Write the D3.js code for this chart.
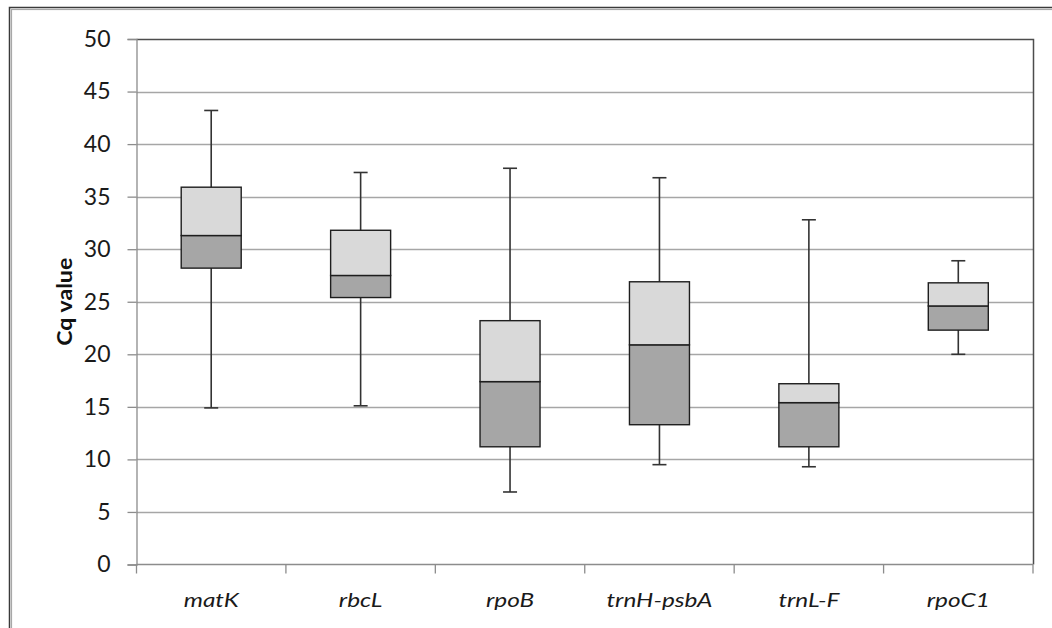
<!DOCTYPE html>
<html>
<head>
<meta charset="utf-8">
<script src="https://cdn.jsdelivr.net/npm/d3@7"></script>
<style>
  body { margin: 0; background: #fff; }
  svg { display: block; }
</style>
</head>
<body>
<div id="chart"></div>
<script>
// Chart data
var genes = ["matK", "rbcL", "rpoB", "trnH-psbA", "trnL-F", "rpoC1"];
var mins = [14.9, 15.1, 6.9, 9.5, 9.3, 20.0];
var q1s = [28.2, 25.4, 11.2, 13.3, 11.2, 22.3];
var medians = [31.3, 27.5, 17.4, 20.9, 15.4, 24.6];
var q3s = [35.9, 31.8, 23.2, 26.9, 17.2, 26.8];
var maxs = [43.2, 37.3, 37.7, 36.8, 32.8, 28.9];
var yTicks = [0, 5, 10, 15, 20, 25, 30, 35, 40, 45, 50];

(function() {
  var W = 1052, H = 628;
  var plotLeft = 136.5, plotRight = 1033, plotTop = 39, plotBottom = 564.5;
  var font = "Lato, 'Open Sans', sans-serif";

  var svg = d3.select("#chart").append("svg")
    .attr("width", W)
    .attr("height", H);

  // outer double frame (chart area border)
  svg.append("rect")
    .attr("x", 9.5).attr("y", 7.5)
    .attr("width", W + 20).attr("height", H + 20)
    .attr("fill", "none").attr("stroke", "#3a3a3a").attr("stroke-width", 1.5);
  svg.append("rect")
    .attr("x", 11.5).attr("y", 9.5)
    .attr("width", W + 20).attr("height", H + 20)
    .attr("fill", "none").attr("stroke", "#a8a8a8").attr("stroke-width", 1.2);

  var x = d3.scaleBand().domain(genes).range([plotLeft, plotRight]).paddingInner(0).paddingOuter(0);
  var y = d3.scaleLinear().domain([0, 50]).range([plotBottom, plotTop]);

  var data = genes.map(function(g, i) {
    return {name: g, min: mins[i], q1: q1s[i], med: medians[i], q3: q3s[i], max: maxs[i]};
  });

  // gridlines
  svg.append("g").selectAll("line")
    .data(yTicks.filter(function(d) { return d > 0 && d < 50; }))
    .enter().append("line")
    .attr("x1", plotLeft).attr("x2", plotRight)
    .attr("y1", function(d) { return Math.round(y(d)) + 0.5; })
    .attr("y2", function(d) { return Math.round(y(d)) + 0.5; })
    .attr("stroke", "#a6a6a6").attr("stroke-width", 1.3);

  // plot area border (top and right darker)
  svg.append("path")
    .attr("d", "M" + plotLeft + "," + (plotTop + 0.5) + "H" + (plotRight + 0.5) + "V" + plotBottom)
    .attr("fill", "none").attr("stroke", "#4d4d4d").attr("stroke-width", 1.5);

  // y axis
  var yAxis = d3.axisLeft(y).tickValues(yTicks).tickSize(9).tickPadding(17);
  var gy = svg.append("g")
    .attr("transform", "translate(" + plotLeft + ",0)")
    .call(yAxis);
  gy.select(".domain").attr("stroke", "#8c8c8c").attr("stroke-width", 1.3);
  gy.selectAll(".tick line").attr("stroke", "#8c8c8c").attr("stroke-width", 1.3);
  gy.selectAll(".tick text")
    .attr("fill", "#1a1a1a")
    .style("font-family", font)
    .style("font-size", "23px");

  // x axis (ticks at category boundaries)
  svg.append("line")
    .attr("x1", plotLeft).attr("x2", plotRight)
    .attr("y1", plotBottom).attr("y2", plotBottom)
    .attr("stroke", "#8c8c8c").attr("stroke-width", 1.3);
  var bounds = genes.map(function(g) { return x(g); }).concat([plotRight]);
  svg.append("g").selectAll("line")
    .data(bounds)
    .enter().append("line")
    .attr("x1", function(d) { return d; }).attr("x2", function(d) { return d; })
    .attr("y1", plotBottom).attr("y2", plotBottom + 9)
    .attr("stroke", "#8c8c8c").attr("stroke-width", 1.3);
  // category labels are drawn a little wide in the original, hence the x stretch
  svg.append("g").selectAll("text")
    .data(genes)
    .enter().append("text")
    .attr("transform", function(d) {
      return "translate(" + (x(d) + x.bandwidth() / 2) + ",607) scale(1.25,1)";
    })
    .attr("text-anchor", "middle")
    .attr("fill", "#1a1a1a")
    .style("font-family", font)
    .style("font-style", "italic")
    .style("font-size", "19.5px")
    .text(function(d) { return d; });

  // y axis title
  svg.append("text")
    .attr("transform", "translate(72," + ((plotTop + plotBottom) / 2) + ") rotate(-90) scale(1.1,1)")
    .attr("text-anchor", "middle")
    .attr("fill", "#111")
    .style("font-family", font)
    .style("font-weight", "bold")
    .style("font-size", "21px")
    .text("Cq value");

  // boxes
  var boxW = 60, capW = 14;
  var groups = svg.append("g").selectAll("g")
    .data(data)
    .enter().append("g")
    .attr("transform", function(d) { return "translate(" + (x(d.name) + x.bandwidth() / 2) + ",0)"; });

  // whiskers
  groups.append("line")
    .attr("x1", 0).attr("x2", 0)
    .attr("y1", function(d) { return y(d.max); })
    .attr("y2", function(d) { return y(d.min); })
    .attr("stroke", "#333").attr("stroke-width", 1.6);
  groups.append("line")
    .attr("x1", -capW / 2).attr("x2", capW / 2)
    .attr("y1", function(d) { return y(d.max); })
    .attr("y2", function(d) { return y(d.max); })
    .attr("stroke", "#333").attr("stroke-width", 1.6);
  groups.append("line")
    .attr("x1", -capW / 2).attr("x2", capW / 2)
    .attr("y1", function(d) { return y(d.min); })
    .attr("y2", function(d) { return y(d.min); })
    .attr("stroke", "#333").attr("stroke-width", 1.6);

  // lower half: q1 to median
  groups.append("rect")
    .attr("x", -boxW / 2).attr("width", boxW)
    .attr("y", function(d) { return y(d.med); })
    .attr("height", function(d) { return y(d.q1) - y(d.med); })
    .attr("fill", "#a6a6a6").attr("stroke", "#1e1e1e").attr("stroke-width", 1.4);

  // upper half: median to q3
  groups.append("rect")
    .attr("x", -boxW / 2).attr("width", boxW)
    .attr("y", function(d) { return y(d.q3); })
    .attr("height", function(d) { return y(d.med) - y(d.q3); })
    .attr("fill", "#d9d9d9").attr("stroke", "#1e1e1e").attr("stroke-width", 1.4);
})();
</script>
</body>
</html>
